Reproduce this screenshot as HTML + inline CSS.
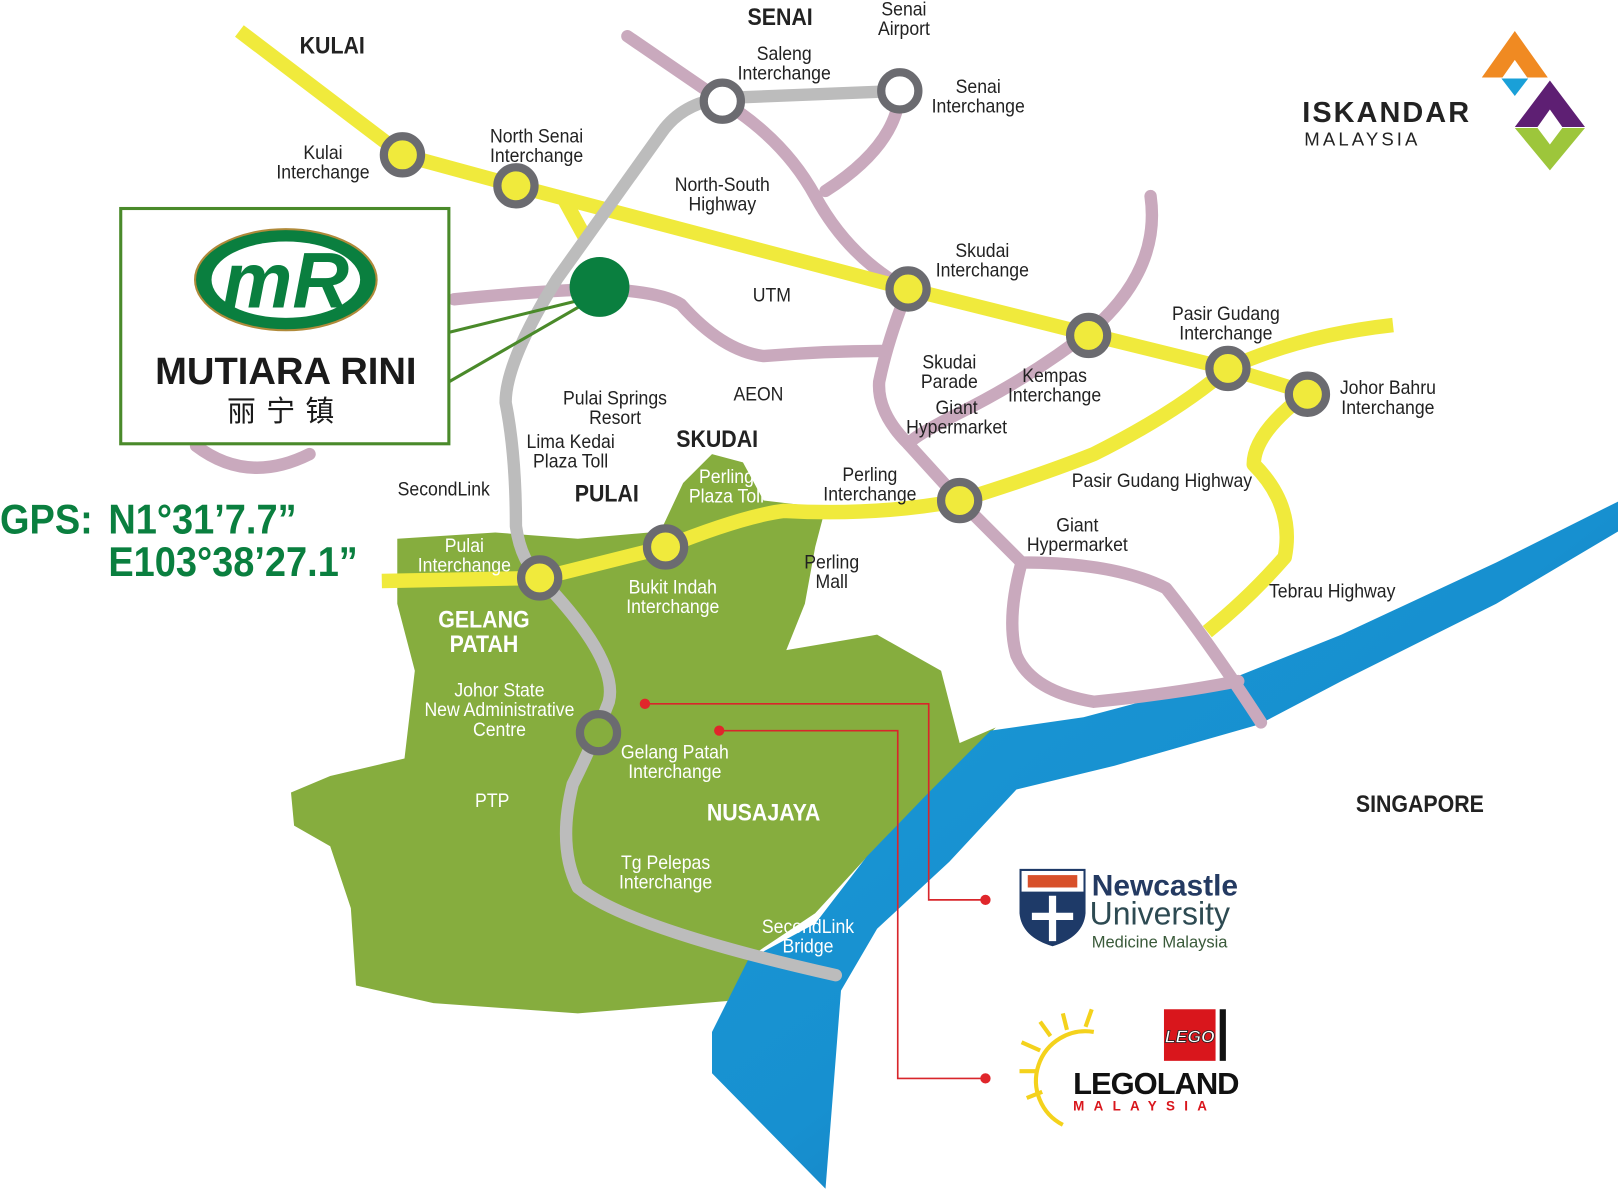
<!DOCTYPE html>
<html><head><meta charset="utf-8">
<style>
html,body{margin:0;padding:0;background:#fff;width:1618px;height:1193px;overflow:hidden}
svg{display:block}
text{font-family:"Liberation Sans",sans-serif}
.l,.w,.b,.bw{transform-box:fill-box;transform-origin:center;transform:scaleX(.9)}
.l{font-size:19px;fill:#222;text-anchor:middle}
.w{font-size:19px;fill:#fff;text-anchor:middle}
.b{font-weight:bold;font-size:23px;fill:#222;text-anchor:middle}
.bw{font-weight:bold;font-size:23px;fill:#fff;text-anchor:middle}
.g{transform-box:fill-box;transform-origin:left center;transform:scaleX(.92)}
</style></head><body>
<svg width="1618" height="1193" viewBox="0 0 1568 1156" xmlns="http://www.w3.org/2000/svg">
<defs>
<linearGradient id="riv" x1="0" y1="0" x2="1" y2="1">
<stop offset="0" stop-color="#1a9ad6"/><stop offset="0.5" stop-color="#1790d0"/><stop offset="1" stop-color="#1567a6"/>
</linearGradient>
</defs>
<path d="M385,522 L480,516 L560,522 L640,515 L662,468 L690,440 L720,448 L740,485 L800,492 L790,530 L780,585 L762,630 L850,615 L912,650 L930,720 L965,705 L905,765 L845,825 L790,885 L730,925 L705,970 L560,982 L420,972 L345,955 L340,880 L320,820 L285,800 L282,768 L320,752 L392,735 L402,650 L385,585 Z" fill="#86ad3e"/>
<path d="M1568,486 L1450,545 L1300,615 L1200,655 L1050,695 L960,708 L900,768 L840,830 L790,895 L725,930 L690,1000 L690,1040 L800,1152 L808,1050 L815,960 L850,900 L920,835 L985,765 L1080,742 L1220,702 L1300,660 L1450,585 L1568,515 Z" fill="url(#riv)"/>
<g fill="none" stroke="#c9a9bd" stroke-width="12" stroke-linecap="round" stroke-linejoin="round">
<path d="M608,35 L700,98 Q760,135 790,190 Q820,245 870,275 L880,280 Q860,330 852,370 Q850,400 880,430 L930,485 L990,545 Q1080,545 1130,570 Q1170,620 1222,700"/>
<path d="M872,88 Q870,140 800,185"/>
<path d="M440,290 Q520,282 580,280 Q640,282 660,295 Q700,340 740,345 Q800,340 855,340"/>
<path d="M1115,190 Q1125,260 1060,318 Q1000,365 930,400 Q890,420 880,430"/>
<path d="M990,545 Q975,600 985,635 Q1000,670 1060,680 Q1140,672 1200,660"/>
<path d="M190,432 Q240,470 300,440"/>
</g>
<g fill="none" stroke="#f0ea3c" stroke-width="14" stroke-linecap="butt" stroke-linejoin="round">
<path d="M232,30 L390,150 L500,180 L880,280 L1060,325 L1190,357 L1265,380"/>
<path d="M545,190 L568,232"/>
<path d="M370,563 L525,560 L645,530 Q720,500 760,495 Q850,500 930,485 Q1010,460 1060,440 Q1140,400 1190,357 Q1260,325 1350,315"/>
<path d="M1265,382 Q1215,420 1215,450 Q1255,490 1245,540 Q1210,580 1170,612"/>
</g>
<g fill="none" stroke="#bcbcbc" stroke-width="12" stroke-linecap="round" stroke-linejoin="round">
<path d="M872,88 L700,95 Q660,100 640,130 L540,270 Q490,350 490,390 Q500,440 500,510 Q505,545 525,562 Q600,640 590,680 Q575,720 555,760 Q540,820 560,860 Q610,900 810,945"/>
</g>
<g fill="#f0ea3c" stroke="#6b6b70" stroke-width="8">
<circle cx="390" cy="150" r="18"/><circle cx="500" cy="180" r="18"/>
<circle cx="700" cy="98" r="18" fill="#fff"/><circle cx="872" cy="88" r="18" fill="#fff"/>
<circle cx="880" cy="280" r="18"/><circle cx="1055" cy="325" r="18"/>
<circle cx="1190" cy="357" r="18"/><circle cx="1267" cy="382" r="18"/>
<circle cx="930" cy="485" r="18"/><circle cx="645" cy="530" r="18"/>
<circle cx="523" cy="560" r="18"/><circle cx="580" cy="710" r="18" fill="#86ad3e"/>
</g>
<rect x="117" y="202" width="318" height="228" fill="#fff" stroke="#4a8a2a" stroke-width="3"/>
<path d="M435,322 L565,290 M435,370 L565,295" stroke="#4a8a2a" stroke-width="3"/>
<circle cx="581" cy="278" r="29" fill="#0a7f3f"/>
<ellipse cx="277" cy="271" rx="88" ry="49" fill="#0a7f3f" stroke="#b08a3a" stroke-width="2"/>
<ellipse cx="277" cy="271" rx="72" ry="37" fill="#fff"/>
<text x="277" y="298" text-anchor="middle" font-family="Liberation Serif,serif" font-style="italic" font-weight="bold" font-size="76" fill="#0a7f3f">mR</text>
<text x="277" y="372" text-anchor="middle" font-family="Liberation Sans,sans-serif" font-weight="bold" font-size="37" fill="#1a1a1a">MUTIARA RINI</text>
<text x="277" y="408" text-anchor="middle" font-family="Liberation Sans,'Noto Sans CJK SC',sans-serif" font-size="28" fill="#1a1a1a" letter-spacing="10">丽宁镇</text>
<g font-family="Liberation Sans,sans-serif" font-weight="bold" font-size="40" fill="#0a7f3f">
<text class="g" x="0" y="517">GPS:</text><text class="g" x="105" y="517">N1°31’7.7”</text><text class="g" x="105" y="558">E103°38’27.1”</text>
</g>
<g stroke="#d8262b" stroke-width="1.6" fill="none">
<path d="M625,682 L900,682 L900,872 L955,872"/><path d="M697,708 L870,708 L870,1045 L955,1045"/>
</g>
<g fill="#e0262b"><circle cx="625" cy="682" r="5"/><circle cx="697" cy="708" r="5"/><circle cx="955" cy="872" r="5"/><circle cx="955" cy="1045" r="5"/></g>
<text x="1262" y="118" font-family="Liberation Sans,sans-serif" font-weight="bold" font-size="28" fill="#222" letter-spacing="2">ISKANDAR</text>
<text x="1264" y="141" font-family="Liberation Sans,sans-serif" font-size="18" fill="#222" letter-spacing="3">MALAYSIA</text>
<polygon points="1468,30 1500,75 1480,75 1468,58 1456,75 1436,75" fill="#f08a22"/>
<polygon points="1455,76 1481,76 1468,93" fill="#1aa0d8"/>
<polygon points="1502,78 1536,123 1514,123 1502,106 1490,123 1468,123" fill="#5e1f73"/>
<polygon points="1468,124 1490,124 1502,140 1514,124 1536,124 1502,165" fill="#9dc63b"/>
<path d="M988,842 L1052,842 L1052,885 Q1050,908 1020,917 Q990,908 988,885 Z" fill="#1e3a68"/>
<rect x="990" y="844" width="60" height="20" fill="#fff"/>
<rect x="996" y="848" width="48" height="12" fill="#d8502a"/>
<path d="M1020,868 L1020,912 M1000,888 L1040,888" stroke="#fff" stroke-width="7"/>
<text x="1058" y="868" font-family="Liberation Sans,sans-serif" font-weight="bold" font-size="29" fill="#243a62">Newcastle</text>
<text x="1056" y="896" font-family="Liberation Serif,serif" font-size="31" fill="#2d4a52">University</text>
<text x="1058" y="918" font-family="Liberation Sans,sans-serif" font-size="16" fill="#3a5a3a">Medicine Malaysia</text>
<path d="M1060,1000 A48,48 0 0 0 1030,1090" stroke="#f4d21c" stroke-width="4" fill="none"/>
<g stroke="#f4d21c" stroke-width="4"><path d="M1008,990 L1018,1004 M1030,982 L1034,998 M1058,978 L1052,995 M990,1010 L1008,1018 M988,1038 L1005,1038 M995,1064 L1010,1058"/></g>
<rect x="1128" y="978" width="50" height="50" fill="#d9161c"/>
<text x="1153" y="1010" text-anchor="middle" font-family="Liberation Sans,sans-serif" font-weight="bold" font-style="italic" font-size="17" fill="#fff" stroke="#222" stroke-width="0.8">LEGO</text>
<rect x="1182" y="978" width="6" height="50" fill="#111"/>
<text x="1040" y="1060" font-family="Liberation Sans,sans-serif" font-weight="bold" font-size="30" fill="#111" letter-spacing="-1">LEGOLAND</text>
<text x="1040" y="1076" font-family="Liberation Sans,sans-serif" font-weight="bold" font-size="13" fill="#d9161c" letter-spacing="9">MALAYSIA</text>
<text class="b" x="322" y="52">KULAI</text>
<text class="b" x="756" y="24">SENAI</text>
<text class="l" x="876" y="15">Senai</text><text class="l" x="876" y="34">Airport</text>
<text class="l" x="760" y="58">Saleng</text><text class="l" x="760" y="77">Interchange</text>
<text class="l" x="948" y="90">Senai</text><text class="l" x="948" y="109">Interchange</text>
<text class="l" x="313" y="154">Kulai</text><text class="l" x="313" y="173">Interchange</text>
<text class="l" x="520" y="138">North Senai</text><text class="l" x="520" y="157">Interchange</text>
<text class="l" x="700" y="185">North-South</text><text class="l" x="700" y="204">Highway</text>
<text class="l" x="952" y="249">Skudai</text><text class="l" x="952" y="268">Interchange</text>
<text class="l" x="748" y="292">UTM</text>
<text class="l" x="1188" y="310">Pasir Gudang</text><text class="l" x="1188" y="329">Interchange</text>
<text class="l" x="1345" y="382">Johor Bahru</text><text class="l" x="1345" y="401">Interchange</text>
<text class="l" x="920" y="357">Skudai</text><text class="l" x="920" y="376">Parade</text>
<text class="l" x="1022" y="370">Kempas</text><text class="l" x="1022" y="389">Interchange</text>
<text class="l" x="927" y="401">Giant</text><text class="l" x="927" y="420">Hypermarket</text>
<text class="l" x="735" y="388">AEON</text>
<text class="l" x="596" y="392">Pulai Springs</text><text class="l" x="596" y="411">Resort</text>
<text class="l" x="553" y="434">Lima Kedai</text><text class="l" x="553" y="453">Plaza Toll</text>
<text class="b" x="695" y="433">SKUDAI</text>
<text class="b" x="588" y="486">PULAI</text>
<text class="l" x="430" y="480">SecondLink</text>
<text class="w" x="704" y="468">Perling</text><text class="w" x="704" y="487">Plaza Toll</text>
<text class="l" x="843" y="466">Perling</text><text class="l" x="843" y="485">Interchange</text>
<text class="l" x="1126" y="472">Pasir Gudang Highway</text>
<text class="l" x="1044" y="515">Giant</text><text class="l" x="1044" y="534">Hypermarket</text>
<text class="w" x="450" y="535">Pulai</text><text class="w" x="450" y="554">Interchange</text>
<text class="w" x="652" y="575">Bukit Indah</text><text class="w" x="652" y="594">Interchange</text>
<text class="l" x="806" y="551">Perling</text><text class="l" x="806" y="570">Mall</text>
<text class="l" x="1291" y="579">Tebrau Highway</text>
<text class="bw" x="469" y="608">GELANG</text><text class="bw" x="469" y="632">PATAH</text>
<text class="w" x="484" y="675">Johor State</text><text class="w" x="484" y="694">New Administrative</text><text class="w" x="484" y="713">Centre</text>
<text class="w" x="654" y="735">Gelang Patah</text><text class="w" x="654" y="754">Interchange</text>
<text class="w" x="477" y="782">PTP</text>
<text class="bw" x="740" y="795" font-size="34">NUSAJAYA</text>
<text class="b" x="1376" y="787">SINGAPORE</text>
<text class="w" x="645" y="842">Tg Pelepas</text><text class="w" x="645" y="861">Interchange</text>
<text class="w" x="783" y="904">SecondLink</text><text class="w" x="783" y="923">Bridge</text>
</svg>
</body></html>
